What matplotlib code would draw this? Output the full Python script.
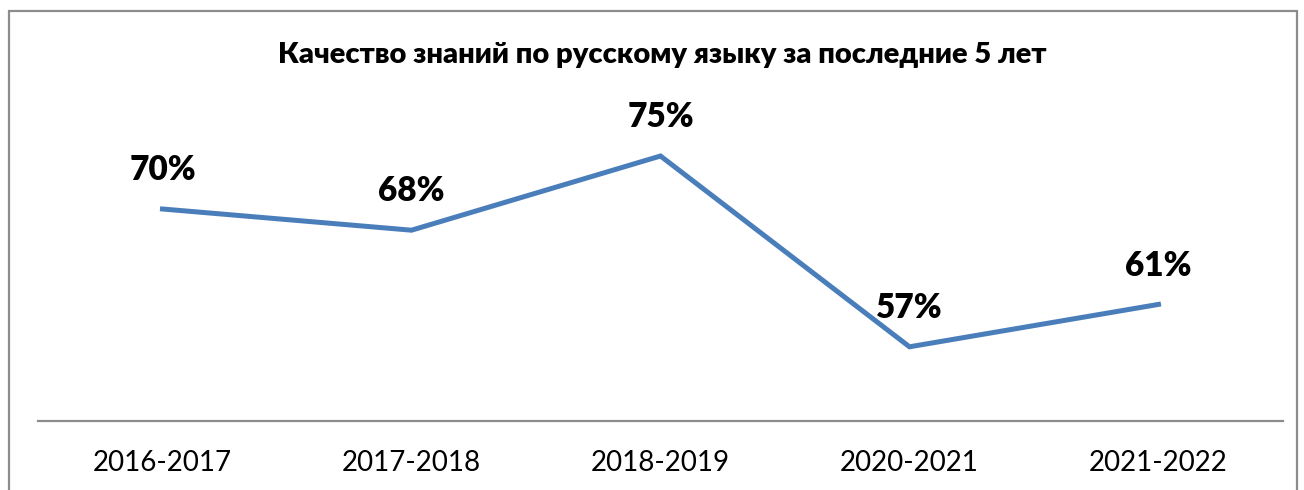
import matplotlib
matplotlib.use('Agg')
import matplotlib.pyplot as plt
from matplotlib.patches import Rectangle

years = ["2016-2017", "2017-2018", "2018-2019", "2020-2021", "2021-2022"]
quality = [70, 68, 75, 57, 61]
title = "Качество знаний по русскому языку за последние 5 лет"

plt.rcParams['font.family'] = ['Lato', 'DejaVu Sans']

fig = plt.figure(figsize=(13.04, 4.9), dpi=100)
W, H = 1304, 490

# outer chart border (bottom goes off the picture)
fig.patches.append(Rectangle((9 / W, -0.05), 1288 / W, 1.05 - 11 / H,
                             transform=fig.transFigure, fill=False,
                             edgecolor='#8c8c8c', linewidth=1.6))

ax = fig.add_axes([38 / W, 1 - 421 / H, 1245 / W, (421 - 103) / H])
x = range(len(years))
ax.plot(x, quality, color='#4a7ebb', linewidth=3.6, solid_joinstyle='miter')

for i, v in enumerate(quality):
    ax.annotate(f"{v}%", (i, v), xytext=(0, 28), textcoords='offset points',
                ha='center', va='center', fontsize=24, fontweight='heavy')

ax.set_xlim(-0.5, len(years) - 0.5)
ax.set_ylim(50, 80)
ax.set_xticks(list(x))
ax.set_xticklabels(years, fontsize=20)
ax.tick_params(axis='x', length=0, pad=21)
ax.set_yticks([])
for s in ['top', 'left', 'right']:
    ax.spines[s].set_visible(False)
ax.spines['bottom'].set_color('#8c8c8c')
ax.spines['bottom'].set_linewidth(1.6)

fig.text(662 / W, 1 - 55 / H, title, ha='center', va='center',
         fontsize=21, fontweight='heavy')

fig.savefig('out.png', dpi=100)
